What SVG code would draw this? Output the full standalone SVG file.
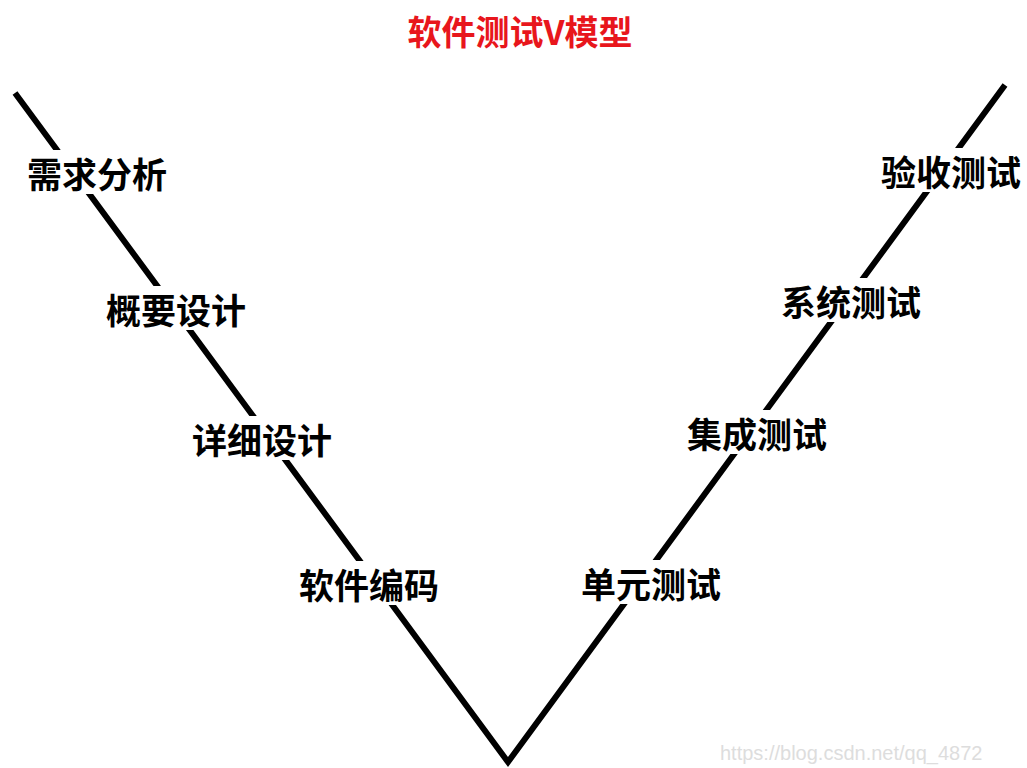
<svg xmlns="http://www.w3.org/2000/svg" width="1027" height="768" viewBox="0 0 1027 768">
<style>
.l{font-family:"Noto Sans CJK SC","Liberation Sans",sans-serif;font-size:35px;font-weight:bold;fill:#000;text-anchor:middle;dominant-baseline:central}
.bg{fill:#fff}
</style>
<rect width="1027" height="768" fill="#fff"/>
<g id="connectors" stroke="#000" stroke-width="6" fill="none">
<polyline points="15,93 508,762 1005,85"/>
</g>
<text x="520" y="30" style="font-family:'Noto Sans CJK SC',serif;font-size:34px;font-weight:bold;fill:#e8161c;text-anchor:middle;dominant-baseline:central">软件测试V模型</text>
<g id="n1"><rect class="bg" x="22" y="150" width="150" height="44"/><text class="l" x="97" y="172">需求分析</text></g>
<g id="n2"><rect class="bg" x="101" y="286" width="150" height="44"/><text class="l" x="176" y="308">概要设计</text></g>
<g id="n3"><rect class="bg" x="187" y="416" width="150" height="44"/><text class="l" x="262" y="438">详细设计</text></g>
<g id="n4"><rect class="bg" x="294" y="561" width="150" height="44"/><text class="l" x="369" y="583">软件编码</text></g>
<g id="n5"><rect class="bg" x="576" y="560" width="150" height="44"/><text class="l" x="651" y="582">单元测试</text></g>
<g id="n6"><rect class="bg" x="682" y="410" width="150" height="44"/><text class="l" x="757" y="432">集成测试</text></g>
<g id="n7"><rect class="bg" x="776" y="278" width="150" height="44"/><text class="l" x="851" y="300">系统测试</text></g>
<g id="n8"><rect class="bg" x="876" y="148" width="150" height="44"/><text class="l" x="951" y="170">验收测试</text></g>
<text x="720" y="760" style="font-family:'Liberation Sans',sans-serif;font-size:20px;fill:#ddd">https://blog.csdn.net/qq_4872</text>
</svg>
